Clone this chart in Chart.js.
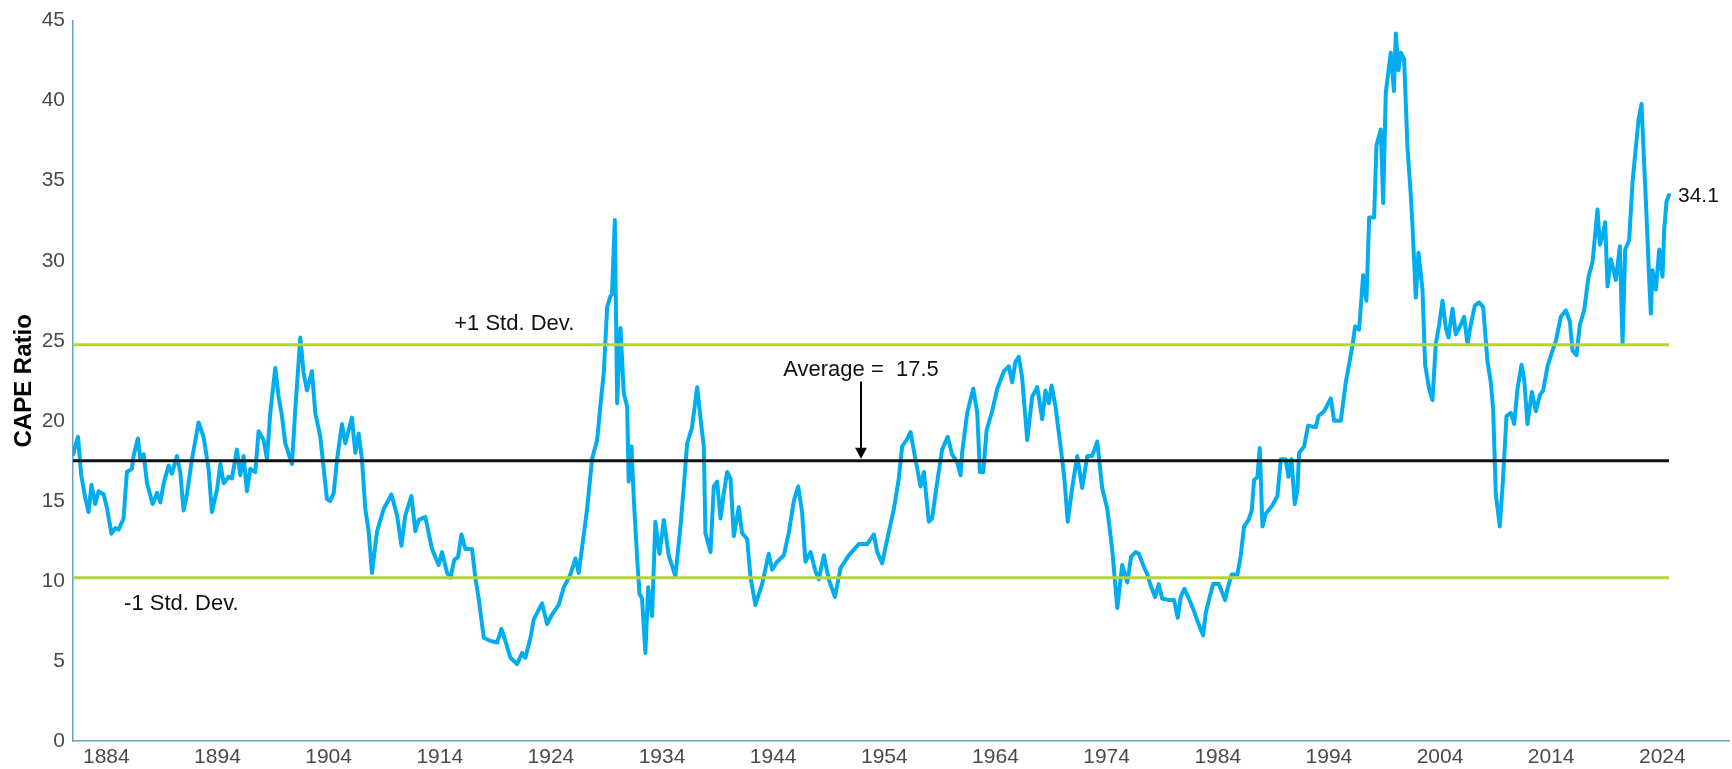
<!DOCTYPE html>
<html>
<head>
<meta charset="utf-8">
<script src="https://cdn.jsdelivr.net/npm/chart.js@4.4.1/dist/chart.umd.min.js"></script>
<style>
    html, body { margin: 0; padding: 0; background: #ffffff; }
    #cape-container { width: 1732px; height: 769px; }
</style>
</head>
<body>
<div id="cape-container"><canvas id="cape-chart" width="1732" height="769"></canvas></div>
<script>
// CAPE ratio, split by era (decimal years)
var years1881 = [
    1881.00, 1881.45, 1881.74, 1882.10, 1882.40, 1882.66, 1883.00, 1883.30, 1883.77, 1884.07,
    1884.46, 1884.80, 1885.10, 1885.55, 1885.85, 1886.30, 1886.45, 1886.84, 1887.06, 1887.36,
    1887.66, 1888.17, 1888.56, 1888.86, 1889.16, 1889.60, 1889.90, 1890.35, 1890.65, 1890.95,
    1891.25, 1891.70, 1892.30, 1892.75, 1893.20, 1893.50, 1893.96, 1894.26, 1894.56, 1895.00,
    1895.30, 1895.75, 1896.05, 1896.35, 1896.65, 1896.95, 1897.40, 1897.70, 1898.15, 1898.45,
    1898.75, 1899.20, 1899.50, 1899.80, 1900.10, 1900.70, 1901.00, 1901.45, 1901.75, 1902.05,
    1902.50, 1902.80, 1903.25, 1903.85, 1904.15
];
var cape1881 = [
    17.9, 19.0, 16.6, 15.2, 14.3, 16.0, 14.8, 15.6, 15.4, 14.5,
    12.95, 13.3, 13.2, 13.9, 16.8, 17.0, 17.8, 18.9, 17.6, 17.9,
    16.1, 14.8, 15.5, 14.9, 16.1, 17.2, 16.7, 17.8, 16.8, 14.4,
    15.4, 17.6, 19.9, 19.0, 17.0, 14.3, 15.7, 17.3, 16.1, 16.5,
    16.4, 18.2, 16.6, 17.8, 15.6, 17.0, 16.8, 19.35, 18.8, 17.6,
    20.5, 23.3, 21.5, 20.3, 18.6, 17.3, 20.7, 25.2, 23.0, 21.9,
    23.1, 20.5, 19.0, 15.1, 15.0
];

var years1904 = [
    1904.46, 1904.76, 1905.20, 1905.50, 1906.10, 1906.40, 1906.70, 1907.00, 1907.30, 1907.60,
    1907.90, 1908.36, 1908.96, 1909.65, 1910.16, 1910.55, 1910.90, 1911.45, 1911.80, 1912.10,
    1912.70, 1913.30, 1913.60, 1913.90, 1914.20, 1914.66, 1914.96, 1915.30, 1915.65, 1915.95,
    1916.30, 1916.90, 1917.20, 1917.50, 1917.96, 1918.56, 1919.16, 1919.55, 1919.90, 1920.36,
    1920.96, 1921.40, 1921.70, 1922.16, 1922.46, 1923.20, 1923.66, 1924.10, 1924.70, 1925.16,
    1925.76, 1926.20, 1926.50, 1926.96, 1927.26, 1927.70, 1928.16, 1928.46, 1928.76
];
var cape1904 = [
    15.5, 17.6, 19.8, 18.6, 20.2, 18.0, 19.2, 17.6, 14.5, 13.1,
    10.5, 13.1, 14.5, 15.4, 14.1, 12.2, 14.1, 15.3, 13.1, 13.8,
    14.0, 12.0, 11.5, 11.0, 11.8, 10.5, 10.2, 11.3, 11.5, 12.9,
    12.0, 12.0, 10.2, 8.9, 6.45, 6.25, 6.15, 7.0, 6.25, 5.2,
    4.8, 5.5, 5.2, 6.45, 7.6, 8.6, 7.3, 7.9, 8.5, 9.6,
    10.4, 11.4, 10.5, 12.9, 14.5, 17.6, 18.8, 21.0, 23.0
];

var years1929 = [
    1929.06, 1929.36, 1929.50, 1929.75, 1929.96, 1930.26, 1930.56, 1930.86, 1931.00, 1931.25,
    1931.46, 1931.76, 1931.97, 1932.20, 1932.50, 1932.75, 1933.10, 1933.40, 1933.77, 1934.16,
    1934.60, 1935.20, 1935.66, 1935.96, 1936.26, 1936.70, 1937.16, 1937.55, 1937.76, 1937.90,
    1938.36, 1938.66, 1938.96, 1939.26, 1939.56, 1939.86, 1940.16, 1940.46, 1940.90, 1941.20,
    1941.66, 1941.96, 1942.40, 1943.00, 1943.60, 1943.90, 1944.36, 1944.96, 1945.40, 1945.86,
    1946.25, 1946.60, 1946.90, 1947.36, 1947.80, 1948.10, 1948.56, 1949.00, 1949.55, 1950.06,
    1950.80, 1951.70, 1952.46, 1953.06, 1953.36, 1953.80, 1954.26
];
var cape1929 = [
    27.1, 27.8, 27.9, 32.55, 21.1, 25.8, 21.7, 20.9, 16.2, 18.4,
    15.1, 11.4, 9.2, 8.9, 5.5, 9.6, 7.8, 13.7, 11.7, 13.8,
    11.6, 10.3, 13.4, 15.9, 18.6, 19.6, 22.1, 19.6, 18.4, 13.0,
    11.8, 15.9, 16.2, 13.9, 15.5, 16.8, 16.4, 12.8, 14.6, 13.0,
    12.6, 10.2, 8.5, 9.8, 11.7, 10.7, 11.2, 11.6, 13.0, 15.0,
    15.9, 14.3, 11.2, 11.8, 10.6, 10.1, 11.6, 10.1, 9.0, 10.8,
    11.6, 12.3, 12.3, 12.9, 11.8, 11.1, 12.6
];

var years1954 = [
    1954.86, 1955.30, 1955.60, 1956.00, 1956.36, 1956.80, 1957.26, 1957.56, 1958.00, 1958.30,
    1958.76, 1959.20, 1959.70, 1960.10, 1960.56, 1960.86, 1961.00, 1961.46, 1962.00, 1962.36,
    1962.60, 1962.90, 1963.20, 1963.70, 1964.16, 1964.76, 1965.20, 1965.50, 1965.80, 1966.10,
    1966.40, 1966.86, 1967.30, 1967.76, 1968.20, 1968.50, 1968.80, 1969.05, 1969.40, 1969.86,
    1970.20, 1970.50, 1970.90, 1971.36, 1971.80, 1972.26, 1972.70, 1973.16, 1973.60, 1974.06,
    1974.50, 1974.96, 1975.40, 1975.86, 1976.20, 1976.60
];
var cape1954 = [
    14.5, 16.4, 18.4, 18.8, 19.3, 17.6, 15.9, 16.8, 13.7, 13.9,
    16.2, 18.2, 19.0, 17.9, 17.4, 16.6, 18.0, 20.5, 22.0, 20.5,
    16.8, 16.8, 19.4, 20.6, 22.0, 23.1, 23.4, 22.4, 23.7, 24.0,
    22.7, 18.8, 21.5, 22.1, 20.1, 21.9, 21.1, 22.2, 20.9, 18.4,
    16.4, 13.7, 15.8, 17.8, 15.8, 17.8, 17.8, 18.7, 15.8, 14.5,
    12.0, 8.3, 11.0, 9.9, 11.5, 11.8
];

var years1976 = [
    1976.90, 1977.40, 1977.67, 1977.97, 1978.36, 1978.70, 1979.00, 1979.60, 1980.07, 1980.40,
    1980.67, 1981.00, 1981.40, 1981.87, 1982.17, 1982.68, 1982.92, 1983.20, 1983.58, 1984.10,
    1984.66, 1984.87, 1985.26, 1985.77, 1986.07, 1986.37, 1986.76, 1987.06, 1987.27, 1987.57,
    1987.78, 1988.02, 1988.32, 1988.90, 1989.37, 1989.67, 1990.12, 1990.36, 1990.63, 1990.93,
    1991.17, 1991.32, 1991.77, 1992.13, 1992.82, 1993.06, 1993.57, 1994.17, 1994.47, 1995.07,
    1995.52, 1996.12, 1996.36, 1996.72, 1997.08, 1997.38, 1997.62, 1998.07, 1998.28, 1998.67,
    1998.88, 1999.12, 1999.57, 1999.85, 2000.02
];
var cape1976 = [
    11.7, 10.8, 10.4, 9.7, 9.0, 9.8, 8.9, 8.8, 8.8, 7.7,
    9.0, 9.5, 8.9, 8.1, 7.5, 6.6, 8.0, 8.8, 9.8, 9.8,
    8.8, 9.5, 10.4, 10.4, 11.6, 13.4, 13.8, 14.4, 16.3, 16.5,
    18.3, 13.4, 14.2, 14.7, 15.3, 17.6, 17.6, 16.5, 17.6, 14.8,
    15.7, 18.0, 18.4, 19.7, 19.6, 20.3, 20.6, 21.4, 20.0, 20.0,
    22.4, 24.7, 25.9, 25.7, 29.1, 27.5, 32.7, 32.7, 37.2, 38.2,
    33.6, 40.5, 43.0, 40.6, 44.2
];

var years2000 = [
    2000.26, 2000.47, 2000.77, 2001.07, 2001.37, 2001.52, 2001.82, 2002.06, 2002.42, 2002.66,
    2003.02, 2003.32, 2003.62, 2003.92, 2004.22, 2004.52, 2004.76, 2005.12, 2005.42, 2005.87,
    2006.17, 2006.47, 2006.77, 2007.13, 2007.52, 2007.88, 2008.27, 2008.57, 2008.78, 2009.02,
    2009.38, 2009.68, 2009.98, 2010.37, 2010.67, 2010.97, 2011.33, 2011.57, 2011.87, 2012.26,
    2012.62, 2012.98, 2013.28, 2013.67, 2014.03, 2014.42, 2014.87, 2015.32, 2015.68, 2015.92,
    2016.28, 2016.58, 2016.97, 2017.36, 2017.72, 2018.17, 2018.38, 2018.62, 2018.86, 2019.07,
    2019.37, 2019.82, 2020.18, 2020.42, 2020.66, 2021.02, 2021.32, 2021.62, 2021.86, 2022.13,
    2022.37, 2022.58, 2022.82, 2022.97, 2023.12, 2023.42, 2023.72, 2024.02, 2024.17, 2024.38,
    2024.60
];
var cape2000 = [
    41.9, 43.0, 42.6, 37.1, 34.1, 32.2, 27.7, 30.5, 28.2, 23.5,
    22.0, 21.3, 24.8, 26.0, 27.5, 25.8, 25.2, 27.0, 25.4, 26.0,
    26.5, 24.8, 26.0, 27.2, 27.4, 27.1, 23.7, 22.4, 20.7, 15.4,
    13.4, 16.5, 20.3, 20.5, 19.8, 22.0, 23.5, 22.6, 19.8, 21.8,
    20.6, 21.6, 21.9, 23.4, 24.2, 25.0, 26.5, 26.9, 26.2, 24.4,
    24.1, 26.0, 26.9, 29.0, 29.9, 33.2, 31.0, 31.5, 32.4, 28.4,
    30.1, 28.8, 30.9, 24.8, 30.7, 31.3, 34.9, 37.1, 38.8, 39.8,
    36.0, 32.8, 28.8, 26.7, 29.4, 28.2, 30.7, 29.0, 32.0, 33.7,
    34.1
];

var avgValue = 17.5;
var sdUpper = 24.75;
var sdLower = 10.2;
var xTickYears = [1884, 1894, 1904, 1914, 1924, 1934, 1944, 1954, 1964, 1974, 1984, 1994, 2004, 2014, 2024];

var years = [].concat(years1881, years1904, years1929, years1954, years1976, years2000);
var cape = [].concat(cape1881, cape1904, cape1929, cape1954, cape1976, cape2000);

var FONT = '"Liberation Sans", Arial, sans-serif';
var AXIS_COLOR = '#6d9ec8';
var TICK_COLOR = '#4a4a4a';

document.addEventListener('DOMContentLoaded', function () {
    renderCapeChart();
}, false);

function flatLine(value) {
    return [{x: years[0], y: value}, {x: years[years.length - 1], y: value}];
}

// text labels and the arrow pointing at the average line
var notesPlugin = {
    id: 'notes',
    afterDatasetsDraw: function (chart) {
        var ctx = chart.ctx;
        var xs = chart.scales.x;
        var ys = chart.scales.y;
        var lastYear = years[years.length - 1];
        var lastValue = cape[cape.length - 1];

        ctx.save();
        ctx.fillStyle = '#111111';
        ctx.textBaseline = 'middle';
        ctx.font = '22px ' + FONT;

        ctx.textAlign = 'left';
        ctx.fillText('+1 Std. Dev.', xs.getPixelForValue(1915.3), ys.getPixelForValue(26.05));
        ctx.fillText('-1 Std. Dev.', xs.getPixelForValue(1885.6), ys.getPixelForValue(8.55));

        var ax = Math.round(xs.getPixelForValue(1951.9));
        ctx.textAlign = 'center';
        ctx.fillText('Average =  ' + avgValue.toFixed(1), ax, ys.getPixelForValue(23.2));

        var top = ys.getPixelForValue(22.45);
        var tip = ys.getPixelForValue(avgValue) - 2;
        ctx.strokeStyle = '#000000';
        ctx.fillStyle = '#000000';
        ctx.lineWidth = 2;
        ctx.beginPath();
        ctx.moveTo(ax, top);
        ctx.lineTo(ax, tip - 9);
        ctx.stroke();
        ctx.beginPath();
        ctx.moveTo(ax - 6, tip - 11);
        ctx.lineTo(ax + 6, tip - 11);
        ctx.lineTo(ax, tip);
        ctx.closePath();
        ctx.fill();

        ctx.fillStyle = '#111111';
        ctx.textAlign = 'left';
        ctx.font = '21px ' + FONT;
        ctx.fillText(lastValue.toFixed(1), xs.getPixelForValue(lastYear) + 9, ys.getPixelForValue(lastValue) + 1);
        ctx.restore();
    }
};

function renderCapeChart() {
    var points = years.map(function (yr, i) {
        return {x: yr, y: cape[i]};
    });

    var data = {
        datasets: [
            {
                label: '+1 Std. Dev.',
                data: flatLine(sdUpper),
                borderColor: '#b4d335',
                borderWidth: 3,
                pointRadius: 0,
                order: 1
            },
            {
                label: '-1 Std. Dev.',
                data: flatLine(sdLower),
                borderColor: '#b4d335',
                borderWidth: 3,
                pointRadius: 0,
                order: 1
            },
            {
                label: 'Average',
                data: flatLine(avgValue),
                borderColor: '#111111',
                borderWidth: 3,
                pointRadius: 0,
                order: 1
            },
            {
                label: 'CAPE Ratio',
                data: points,
                borderColor: '#00aeef',
                borderWidth: 4,
                borderJoinStyle: 'round',
                borderCapStyle: 'round',
                pointRadius: 0,
                tension: 0,
                order: 2
            }
        ]
    };

    new Chart(document.getElementById('cape-chart'), {
        type: 'line',
        data: data,
        plugins: [notesPlugin],
        options: {
            responsive: false,
            animation: false,
            devicePixelRatio: 1,
            layout: {padding: {top: 14, right: 3, left: 0, bottom: 0}},
            plugins: {
                legend: {display: false},
                tooltip: {enabled: false}
            },
            scales: {
                x: {
                    type: 'linear',
                    min: 1881,
                    max: 2030,
                    grid: {display: false, drawTicks: false},
                    border: {display: true, color: AXIS_COLOR, width: 1.5},
                    ticks: {
                        color: TICK_COLOR,
                        font: {family: FONT, size: 21},
                        padding: 4,
                        autoSkip: false,
                        maxRotation: 0,
                        callback: function (v) { return String(v); }
                    },
                    afterBuildTicks: function (scale) {
                        scale.ticks = xTickYears.map(function (v) { return {value: v}; });
                    },
                    afterFit: function (scale) { scale.height = 28; }
                },
                y: {
                    min: 0,
                    max: 45,
                    grid: {display: false, drawTicks: false},
                    border: {display: true, color: AXIS_COLOR, width: 1.5},
                    ticks: {
                        stepSize: 5,
                        color: TICK_COLOR,
                        font: {family: FONT, size: 21},
                        padding: 8
                    },
                    title: {
                        display: true,
                        text: 'CAPE Ratio',
                        color: '#000000',
                        font: {family: FONT, size: 24, weight: 'bold'},
                        padding: {top: 10, bottom: 0}
                    },
                    afterFit: function (scale) { scale.width = 73; }
                }
            }
        }
    });
}
</script>
</body>
</html>
